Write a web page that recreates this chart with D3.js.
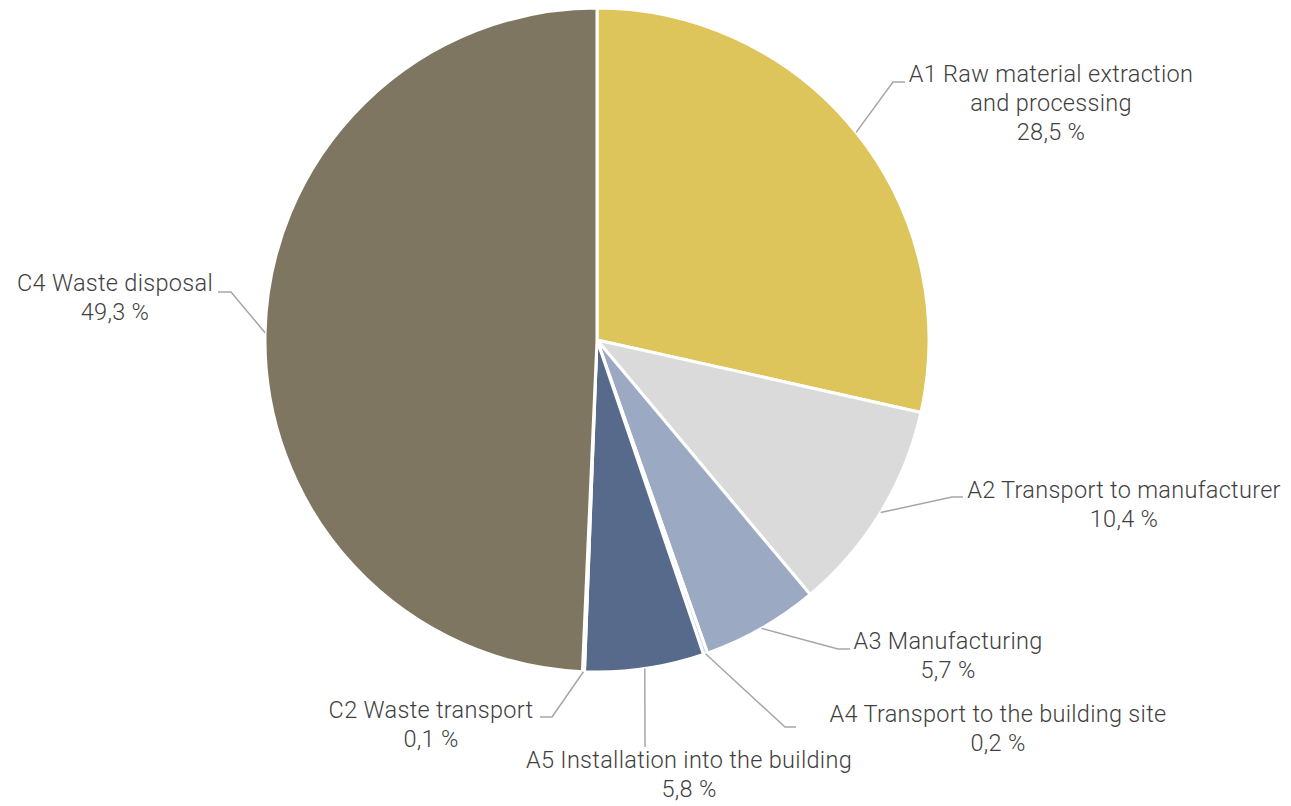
<!DOCTYPE html>
<html>
<head>
    <title>Life cycle stages</title>
    <script src="https://d3js.org/d3.v7.min.js"></script>
    <style>
        body {
            margin: 0;
            background-color: #FFFFFF;
        }
        .label {
            font-family: Roboto, "Liberation Sans", sans-serif;
            font-weight: 300;
            font-size: 23.5px;
            letter-spacing: 0.3px;
            fill: #3F3F3F;
        }
        .leader {
            fill: none;
            stroke: #A6A6A6;
            stroke-width: 1.5px;
        }
    </style>
</head>
<body>
<div id="chart"></div>
<script>
    // Data
    var stages = ["A1", "A2", "A3", "A4", "A5", "C2", "C4"];
    var stageNames = [
        ["A1 Raw material extraction", "and processing"],
        ["A2 Transport to manufacturer"],
        ["A3 Manufacturing"],
        ["A4 Transport to the building site"],
        ["A5 Installation into the building"],
        ["C2 Waste transport"],
        ["C4 Waste disposal"]
    ];
    var shares = [28.5, 10.4, 5.7, 0.2, 5.8, 0.1, 49.3];
    var shareLabels = ["28,5 %", "10,4 %", "5,7 %", "0,2 %", "5,8 %", "0,1 %", "49,3 %"];

    // Colours per slice
    var colors = ["#DDC55C", "#DADADA", "#9BA9C3", "#C8D7F5", "#586A8C", "#3F4E6B", "#7E7661"];

    // Label layout: text centre x, first baseline y, leader elbow and end
    var labelCx = [1051, 1124, 948, 998, 689, 431, 115];
    var labelY = [82, 498, 649, 722, 768, 718, 291];
    var elbow = [[893, 82], [952, 497], [838, 649], [785, 727], [645, 747], [552, 717], [231, 292]];
    var lineEnd = [905, 963, 850, 796, 645, 540, 218];

    var width = 1291, height = 806;
    var cx = 597, cy = 340, radius = 332;
    var lineHeight = 29;

    var svg = d3.select("#chart")
        .append("svg")
        .attr("width", width)
        .attr("height", height);

    var data = stages.map(function (s, i) {
        return { stage: s, value: shares[i], index: i };
    });

    var pie = d3.pie()
        .sort(null)
        .value(function (d) { return d.value; });

    var arc = d3.arc()
        .innerRadius(0)
        .outerRadius(radius);

    var g = svg.append("g")
        .attr("transform", "translate(" + cx + "," + cy + ")");

    var arcs = pie(data);

    g.selectAll("path.slice")
        .data(arcs)
        .enter()
        .append("path")
        .attr("class", "slice")
        .attr("d", arc)
        .attr("fill", function (d) { return colors[d.data.index]; })
        .attr("stroke", "#FFFFFF")
        .attr("stroke-width", 3)
        .attr("stroke-linejoin", "round");

    // Leader lines start on the rim at the middle angle of each slice
    svg.selectAll("polyline.leader")
        .data(arcs)
        .enter()
        .append("polyline")
        .attr("class", "leader")
        .attr("points", function (d) {
            var i = d.data.index;
            var a = (d.startAngle + d.endAngle) / 2;
            var sx = cx + radius * Math.sin(a);
            var sy = cy - radius * Math.cos(a);
            return [[sx, sy], elbow[i], [lineEnd[i], elbow[i][1]]]
                .map(function (p) { return p.join(","); }).join(" ");
        });

    // Labels
    var labels = svg.selectAll("text.label")
        .data(data)
        .enter()
        .append("text")
        .attr("class", "label")
        .attr("text-anchor", "middle")
        .attr("x", function (d) { return labelCx[d.index]; })
        .attr("y", function (d) { return labelY[d.index]; });

    labels.each(function (d) {
        var t = d3.select(this);
        var lines = stageNames[d.index].concat([shareLabels[d.index]]);
        lines.forEach(function (line, j) {
            t.append("tspan")
                .attr("x", labelCx[d.index])
                .attr("y", labelY[d.index] + j * lineHeight)
                .text(line);
        });
    });
</script>
</body>
</html>
